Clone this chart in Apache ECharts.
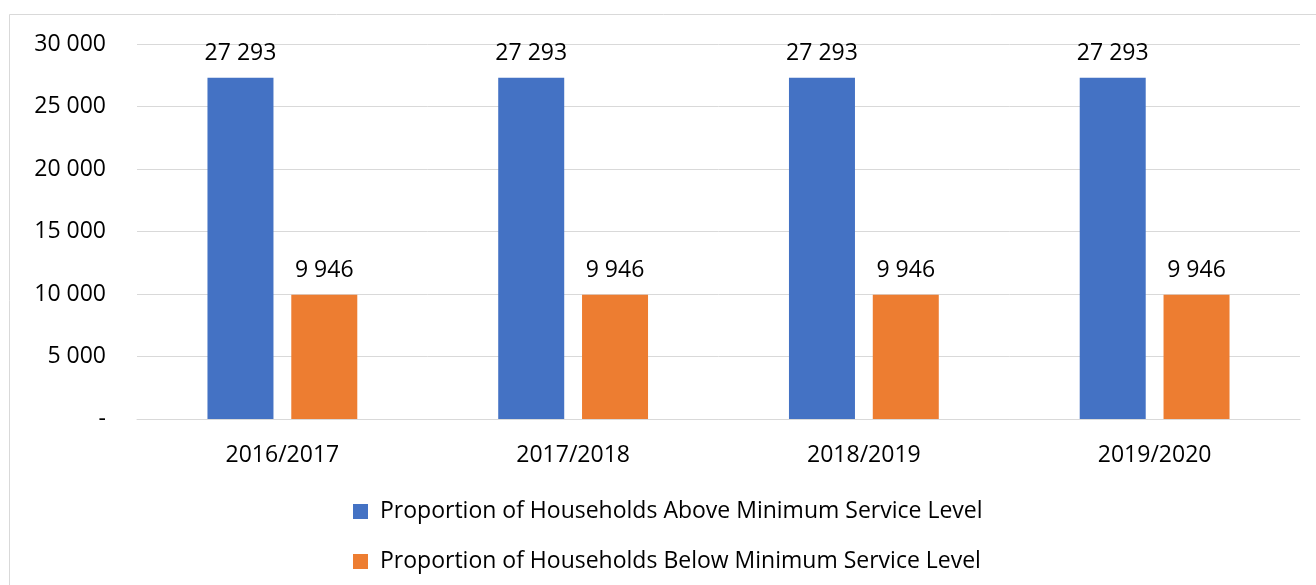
<!DOCTYPE html>
<html>
<head>
<meta charset="utf-8">
<script src="https://cdn.jsdelivr.net/npm/echarts@6/dist/echarts.min.js"></script>
<style>
  html, body { margin: 0; padding: 0; background: #ffffff; }
  #chart { width: 1316px; height: 585px; }
</style>
</head>
<body>
<div id="chart"></div>
<script>
// Financial years on the category axis
const categories = ['2016/2017', '2017/2018', '2018/2019', '2019/2020'];

// Household counts per year
const aboveMinimum = [27293, 27293, 27293, 27293];
const belowMinimum = [9946, 9946, 9946, 9946];

const seriesNames = [
  'Proportion of Households Above Minimum Service Level',
  'Proportion of Households Below Minimum Service Level'
];

const FONT = '"Open Sans", "Noto Sans", sans-serif';
const FS = 23;

// Thousands grouped with a space; zero shown as a dash
function fmt(v) {
  if (v === 0) return '-';
  return String(Math.round(v)).replace(/\B(?=(\d{3})+(?!\d))/g, ' ');
}

const chart = echarts.init(document.getElementById('chart'));

const labelStyle = {
  show: true,
  position: 'top',
  distance: 13,
  color: '#000000',
  fontFamily: FONT,
  fontSize: FS,
  formatter: p => fmt(p.value)
};

chart.setOption({
  animation: false,
  backgroundColor: '#ffffff',
  graphic: [{
    type: 'rect',
    shape: { x: 9.5, y: 14.5, width: 1400, height: 700 },
    style: { fill: 'none', stroke: '#D9D9D9', lineWidth: 1 },
    silent: true
  }],
  grid: { left: 137, right: 16, top: 44, bottom: 166, containLabel: false },
  legend: {
    orient: 'vertical',
    left: 353,
    top: 500,
    padding: 0,
    itemWidth: 15,
    itemHeight: 15,
    itemGap: 27,
    icon: 'rect',
    textStyle: { color: '#000000', fontFamily: FONT, fontSize: FS, padding: [0, 0, 0, 7] },
    data: seriesNames
  },
  xAxis: {
    type: 'category',
    data: categories,
    axisLine: { show: true, lineStyle: { color: '#D9D9D9', width: 1 } },
    axisTick: { show: false },
    axisLabel: { color: '#000000', fontFamily: FONT, fontSize: FS, margin: 25 }
  },
  yAxis: {
    type: 'value',
    min: 0,
    max: 30000,
    interval: 5000,
    axisLine: { show: false },
    axisTick: { show: false },
    splitLine: { lineStyle: { color: '#D9D9D9', width: 1 } },
    axisLabel: { color: '#000000', fontFamily: FONT, fontSize: FS, margin: 31, formatter: fmt }
  },
  series: [
    {
      name: seriesNames[0],
      type: 'bar',
      data: aboveMinimum,
      barWidth: 66,
      barGap: '27%',
      itemStyle: { color: '#4472C4' },
      label: labelStyle
    },
    {
      name: seriesNames[1],
      type: 'bar',
      data: belowMinimum,
      barWidth: 66,
      barGap: '27%',
      itemStyle: { color: '#ED7D31' },
      label: labelStyle
    }
  ]
});
</script>
</body>
</html>
